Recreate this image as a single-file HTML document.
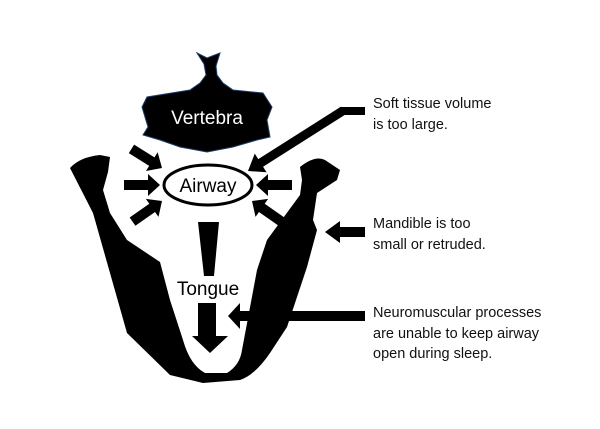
<!DOCTYPE html>
<html><head><style>
html,body{margin:0;padding:0;background:#fff;}
body{width:600px;height:429px;overflow:hidden;position:relative;font-family:"Liberation Sans",sans-serif;}
.t{position:absolute;left:373px;font-size:14.5px;line-height:20.5px;color:#111;white-space:nowrap;}
</style></head><body>
<svg width="600" height="429" style="position:absolute;left:0;top:0">
<!-- vertebra -->
<path d="M197,53 L207,58 L220,53 L216,66 L217,75 L223,83 L233,90 L263,93 L272,107 L267,120 L270,137 L257,140 L233,147 L207,152 L180,147 L160,140 L143,135 L148,127 L142,107 L147,97 L190,90 L200,83 L206,75 L204,64 Z" fill="#000" stroke="#1a3c6e" stroke-width="1"/>
<text x="207" y="124" font-size="19" fill="#fff" text-anchor="middle" font-family="Liberation Sans, sans-serif">Vertebra</text>
<!-- mandible -->
<path d="M70,168 Q80,157 100,155 L110,157 L108,172 L103,190 L110,213 L127,240 L160,262 L170,300 L183,340 Q190,365 205,373 L227,373 Q240,365 242,350 L257,270 L267,240 L300,195 L302,180 L300,167 Q315,155 325,160 L340,170 L337,180 L317,193 L313,220 L317,230 L307,267 L287,327 L270,353 Q255,375 240,380 L203,383 L170,375 L127,333 L93,213 Z" fill="#000"/>
<!-- airway -->
<ellipse cx="208" cy="185" rx="44" ry="20" fill="#fff" stroke="#000" stroke-width="3"/>
<text x="208" y="192" font-size="19" text-anchor="middle" font-family="Liberation Sans, sans-serif">Airway</text>
<!-- small arrows -->
<g fill="#000">
<polygon points="124,180 148,180 148,174 160,185 148,196 148,190 124,190"/>
<polygon points="292,180 268,180 268,174 256,185 268,196 268,190 292,190"/>
<g transform="translate(162,168) rotate(32)"><polygon points="-36,-5 -12,-5 -12,-11 0,0 -12,11 -12,5 -36,5"/></g>
<g transform="translate(162,201) rotate(-35)"><polygon points="-36,-5 -12,-5 -12,-11 0,0 -12,11 -12,5 -36,5"/></g>
<g transform="translate(252,201) rotate(-145)"><polygon points="-36,-5 -12,-5 -12,-11 0,0 -12,11 -12,5 -36,5"/></g>
<!-- soft tissue arrow -->
<rect x="340" y="107" width="25" height="8"/>
<g transform="translate(248,171) rotate(-32.4)"><polygon points="0,0 15,-11 15,-4.5 113,-4.5 113,4.5 15,4.5 15,11"/></g>
<!-- tongue wedge -->
<polygon points="198,222 219,222 214,276 204,276"/>
<polygon points="198,303 216,303 216,336 228,336 210,353 192,336 198,336"/>
<!-- mandible arrow -->
<polygon points="365,227 340,227 340,221 325,232 340,243 340,237 365,237"/>
<!-- neuro arrow -->
<polygon points="365,311 240,311 240,303 228,316 240,329 240,321 365,321"/>
</g>
<text x="208" y="295" font-size="19" text-anchor="middle" fill="#000" font-family="Liberation Sans, sans-serif">Tongue</text>
</svg>
<div class="t" style="top:94px">Soft tissue volume<br>is too large.</div>
<div class="t" style="top:214px">Mandible is too<br>small or retruded.</div>
<div class="t" style="top:303px">Neuromuscular processes<br>are unable to keep airway<br>open during sleep.</div>
</body></html>
